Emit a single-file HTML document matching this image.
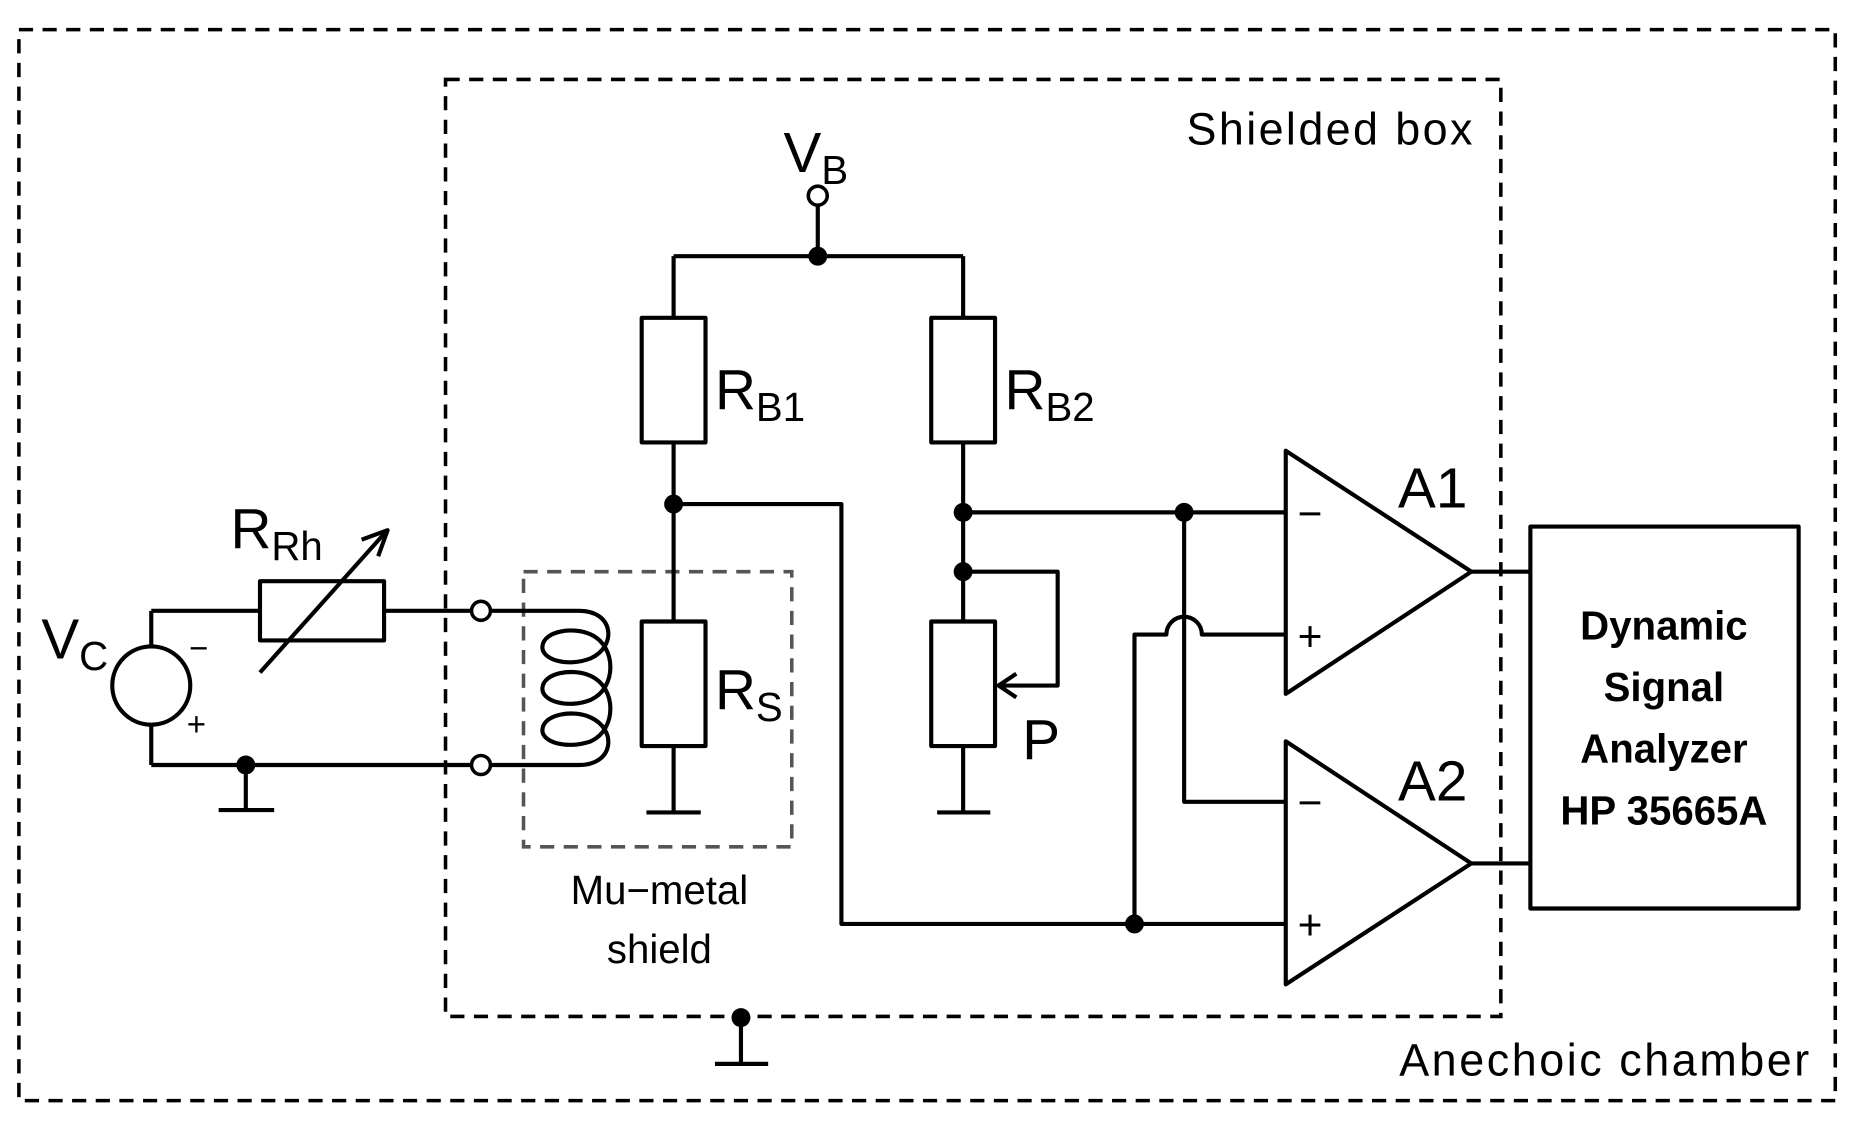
<!DOCTYPE html>
<html><head><meta charset="utf-8"><style>
html,body{margin:0;padding:0;background:#fff}
svg{display:block}
text{font-family:"Liberation Sans",sans-serif;fill:#000}
</style></head><body>
<svg width="1853" height="1122" viewBox="0 0 1568 946" preserveAspectRatio="none" xmlns="http://www.w3.org/2000/svg">
<g fill="none" stroke="#000" stroke-width="3">
<rect x="16" y="25" width="1537" height="903" stroke-dasharray="12,8"/>
<rect x="377" y="67" width="893" height="790" stroke-dasharray="12,8"/>
<rect x="443" y="482" width="227" height="232" stroke="#555" stroke-dasharray="12,8"/>
</g>
<g fill="none" stroke="#000" stroke-width="3.5" stroke-linejoin="round">
<path d="M627,858 V897 M605,897 H650"/>
<path d="M692,173 V216 M570,216 H815 M570,216 V268 M815,216 V268"/>
<rect x="543" y="268" width="54" height="105"/>
<rect x="788" y="268" width="54" height="105"/>
<path d="M570,373 V524 M570,629 V685 M547,685 H593"/>
<rect x="543" y="524" width="54" height="105"/>
<path d="M570,425 H712 V779 H1088"/>
<path d="M815,373 V524 M815,629 V685 M793,685 H838"/>
<rect x="788" y="524" width="54" height="105"/>
<path d="M815,482 H895 V578 H845"/>
<path d="M860,568 L845,578 L860,588"/>
<path d="M815,432 H1088 M1002,432 V676 H1088"/>
<path d="M960,779 V535 H987 A15,15 0 0 1 1017,535 H1088"/>
<path d="M1088,380 L1245,482 L1088,585 Z"/>
<path d="M1088,625 L1245,728 L1088,830 Z"/>
<path d="M1245,482 H1295 M1245,728 H1295"/>
<rect x="1295" y="444" width="227" height="322"/>
<circle cx="128" cy="578" r="33"/>
<path d="M128,515 V545 M128,611 V645 M128,515 H220 M325,515 H399 M128,645 H399"/>
<rect x="220" y="490" width="105" height="50"/>
<path d="M208,645 V683 M185,683 H232"/>
<path d="M220,567 L326,449"/>
<path d="M306,455 L328,447 L320,469"/>
<path d="M415,515 H490 C520,515 522,545 500,555 C480,563 458,556 459,545 C460,532 485,528 500,535 C522,545 522,580 500,590 C480,598 458,591 459,580 C460,567 485,563 500,570 C522,580 522,615 500,625 C480,632 458,626 459,615 C460,602 485,598 500,605 C522,615 520,645 490,645 H415"/>
</g>
<g fill="#fff" stroke="#000" stroke-width="3">
<circle cx="692" cy="165" r="8"/>
<circle cx="407" cy="515" r="8"/>
<circle cx="407" cy="645" r="8"/>
</g>
<g fill="#000">
<circle cx="627" cy="858" r="8"/>
<circle cx="692" cy="216" r="8"/>
<circle cx="570" cy="425" r="8"/>
<circle cx="815" cy="432" r="8"/>
<circle cx="815" cy="482" r="8"/>
<circle cx="1002" cy="432" r="8"/>
<circle cx="960" cy="779" r="8"/>
<circle cx="208" cy="645" r="8"/>
</g>
<text x="1004" y="122" font-size="38" textLength="242">Shielded box</text>
<text x="1184" y="907" font-size="38" textLength="347">Anechoic chamber</text>
<text x="663" y="145" font-size="48">V<tspan font-size="34" dy="10">B</tspan></text>
<text x="605" y="345" font-size="48">R<tspan font-size="34" dy="10">B1</tspan></text>
<text x="850" y="345" font-size="48">R<tspan font-size="34" dy="10">B2</tspan></text>
<text x="605" y="598" font-size="48">R<tspan font-size="34" dy="10">S</tspan></text>
<text x="865" y="640" font-size="48">P</text>
<text x="195" y="462" font-size="48">R<tspan font-size="34" dy="10">Rh</tspan></text>
<text x="35" y="555" font-size="48">V<tspan font-size="34" dy="10">C</tspan></text>
<text x="160" y="556" font-size="28">−</text>
<text x="158" y="620" font-size="28">+</text>
<text x="1183" y="428" font-size="48">A1</text>
<text x="1183" y="675" font-size="48">A2</text>
<text x="1098" y="445" font-size="36">−</text>
<text x="1098" y="549" font-size="36">+</text>
<text x="1098" y="689" font-size="36">−</text>
<text x="1098" y="792" font-size="36">+</text>
<text x="558" y="762" font-size="34" text-anchor="middle">Mu−metal</text>
<text x="558" y="812" font-size="34" text-anchor="middle">shield</text>
<g font-size="34" font-weight="bold" text-anchor="middle">
<text x="1408" y="539">Dynamic</text>
<text x="1408" y="591">Signal</text>
<text x="1408" y="643">Analyzer</text>
<text x="1408" y="695">HP 35665A</text>
</g>
</svg>
</body></html>
